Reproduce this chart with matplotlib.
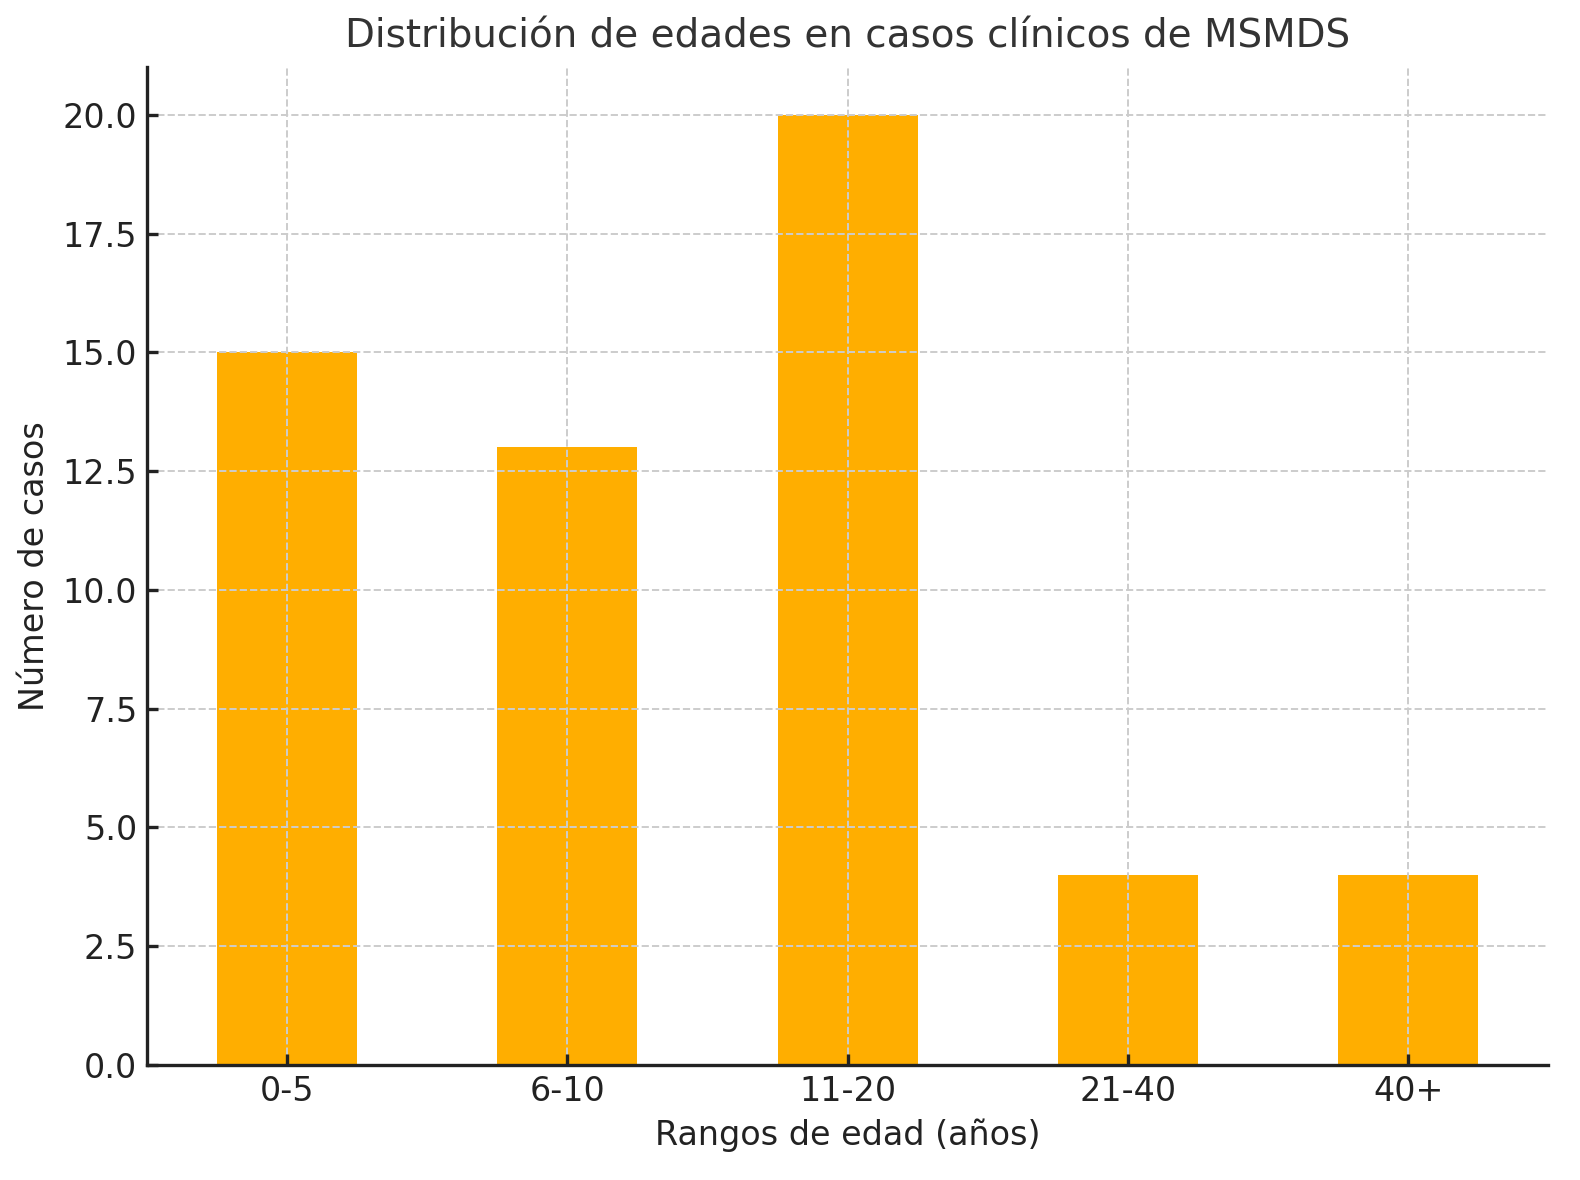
import matplotlib.pyplot as plt

rangos = ['0-5', '6-10', '11-20', '21-40', '40+']
casos = [15, 13, 20, 4, 4]

fig = plt.figure(figsize=(7.9, 5.9), dpi=200)
ax = fig.add_axes([0.093, 0.0975, 0.887, 0.8455])

x = list(range(len(rangos)))
ax.bar(x, casos, width=0.5, color='#FFAE00', zorder=1)
ax.grid(True, linestyle='--', color='#cccccc', linewidth=0.7, zorder=3)
ax.set_axisbelow(False)

ax.set_xticks(x)
ax.set_xticklabels(rangos)
ax.set_xlim(-0.5, 4.5)
ax.set_ylim(0, 21)
ax.set_yticks([0, 2.5, 5, 7.5, 10, 12.5, 15, 17.5, 20])
ax.set_yticklabels([f'{v:.1f}' for v in [0, 2.5, 5, 7.5, 10, 12.5, 15, 17.5, 20]])

ax.tick_params(direction='in', length=4, width=1.2, labelsize=12, colors='#222222')
for s in ['top', 'right']:
    ax.spines[s].set_visible(False)
for s in ['left', 'bottom']:
    ax.spines[s].set_linewidth(1.2)
    ax.spines[s].set_color('#222222')
    ax.spines[s].set_zorder(4)

ax.set_title('Distribución de edades en casos clínicos de MSMDS', fontsize=14, color='#333333', pad=7)
ax.set_xlabel('Rangos de edad (años)', fontsize=12, color='#222222')
ax.set_ylabel('Número de casos', fontsize=12, color='#222222')

fig.savefig('out.png', dpi=200)
